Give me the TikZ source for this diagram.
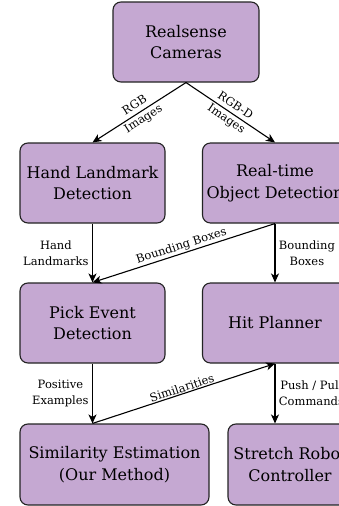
\documentclass[tikz,border=0pt]{standalone}
\usepackage{fontspec}
\setmainfont{DejaVu Serif}
\usetikzlibrary{arrows.meta}

\definecolor{boxpurple}{RGB}{197,168,210}
\definecolor{boxline}{RGB}{35,35,35}

\tikzset{
  block/.style={draw=boxline, line width=1.1pt, rounded corners=8pt, fill=boxpurple,
    align=center, minimum width=145pt, minimum height=80pt, inner sep=2pt,
    font=\fontsize{16}{21.5}\selectfont},
  flow/.style={-{Stealth[length=9pt,width=8pt,inset=2.5pt]}, line width=1.1pt},
  lbl/.style={align=center, font=\fontsize{11.5}{16}\selectfont}
}

\begin{document}
\begin{tikzpicture}[x=1pt, y=-1pt]
\clip (0,0) rectangle (339,506);

\path (186,42) node[block, minimum width=146pt] (cam) {Realsense\\Cameras}
	  (92.5,183) node[block] (hand) {Hand Landmark\\Detection}
	  (275,183) node[block] (obj) {Real-time\\Object Detection};

\path (92.5,323) node[block] (pick) {Pick Event\\Detection}
	  (275,323) node[block] (hit) {Hit Planner};

\path (114.5,464.5) node[block, minimum width=189pt, minimum height=81pt] (sim) {Similarity Estimation\\(Our Method)}
	  (290,464.5) node[block, minimum width=124pt, minimum height=81pt] (robot) {Stretch Robot\\Controller};

\draw[flow] (cam.south) to node [lbl, sloped, anchor=center] {RGB\\Images} (hand.north);
\draw[flow] (cam.south) to node [lbl, sloped, anchor=center] {RGB-D\\Images} (obj.north);

\draw[flow] (hand.south) to node [lbl, left] {Hand\\Landmarks} (pick.north);
\draw[flow] (obj.south) to node [lbl, right] {Bounding\\Boxes} (hit.north);
\draw[flow] (obj.south) to node [lbl, sloped, above, inner sep=1pt] {Bounding Boxes} (pick.north);

\draw[flow] (pick.south) to node [lbl, left] {Positive\\Examples} (pick.south |- sim.north);
\draw[flow] (pick.south |- sim.north) to node [lbl, sloped, above, inner sep=1pt] {Similarities} (hit.south);
\draw[flow] (hit.south) to node [lbl, right] {Push / Pull\\Commands} (hit.south |- robot.north);
\end{tikzpicture}
\end{document}
